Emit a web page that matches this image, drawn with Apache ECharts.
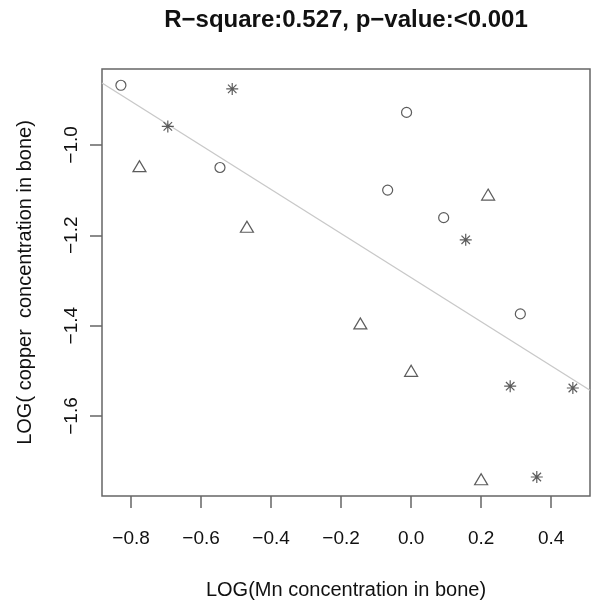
<!DOCTYPE html>
<html>
<head>
<meta charset="utf-8">
<script src="https://cdn.jsdelivr.net/npm/echarts@6/dist/echarts.min.js"></script>
<style>html,body{margin:0;padding:0;background:#fff}#c{width:601px;height:606px}</style>
</head>
<body>
<div id="c"></div>
<script>
// Data
const circleX = [-0.829, -0.546, -0.013, -0.067, 0.093, 0.312];
const circleY = [-0.868, -1.050, -0.928, -1.100, -1.161, -1.374];
const starX = [-0.511, -0.695, 0.156, 0.283, 0.462, 0.359];
const starY = [-0.876, -0.959, -1.210, -1.534, -1.538, -1.735];
const triX = [-0.776, -0.469, -0.145, 0.000, 0.200, 0.220];
const triY = [-1.047, -1.181, -1.395, -1.500, -1.740, -1.110];
const fitX = [-0.883, 0.511];
const fitY = [-0.863, -1.543];
const xTicks = [-0.8, -0.6, -0.4, -0.2, 0.0, 0.2, 0.4];
const yTicks = [-1.6, -1.4, -1.2, -1.0];
const titleText = 'R\u2212square:0.527, p\u2212value:<0.001';
const xName = 'LOG(Mn concentration in bone)';
const yName = 'LOG( copper  concentration in bone)';

const zip = (a, b) => a.map((v, i) => [v, b[i]]);
const FONT = '"Liberation Sans", Arial, Helvetica, sans-serif';
const fmt = v => {
  const s = Math.abs(v).toFixed(1);
  return (v < -1e-9 ? '\u2212' : '') + s;
};
const markColor = '#333';
const asterisk = 'path://M0,-10L0,10M-10,0L10,0M-7.07,-7.07L7.07,7.07M-7.07,7.07L7.07,-7.07';

const chart = echarts.init(document.getElementById('c'), null, {renderer: 'canvas'});
chart.setOption({
  animation: false,
  backgroundColor: '#fff',
  title: {
    text: titleText,
    left: 346,
    top: 8,
    textAlign: 'center',
    padding: 0,
    textStyle: {fontFamily: FONT, fontSize: 24, fontWeight: 'bold', color: '#111'}
  },
  grid: {
    left: 102, right: 11, top: 69, bottom: 110,
    show: true, borderColor: '#666', borderWidth: 1.5, backgroundColor: 'transparent'
  },
  xAxis: {
    type: 'value', min: -0.883, max: 0.511,
    name: xName, nameLocation: 'middle', nameGap: 84,
    nameTextStyle: {fontFamily: FONT, fontSize: 20, color: '#111'},
    axisLine: {show: false, onZero: false},
    splitLine: {show: false},
    axisTick: {show: true, inside: false, length: 12, customValues: xTicks, lineStyle: {color: '#666', width: 1.5}},
    axisLabel: {customValues: xTicks, margin: 33, fontFamily: FONT, fontSize: 19, color: '#111', formatter: fmt}
  },
  yAxis: {
    type: 'value', min: -1.777, max: -0.832,
    name: yName, nameLocation: 'middle', nameGap: 67, nameRotate: 90,
    nameTextStyle: {fontFamily: FONT, fontSize: 20, color: '#111'},
    axisLine: {show: false, onZero: false},
    splitLine: {show: false},
    axisTick: {show: true, inside: false, length: 12, customValues: yTicks, lineStyle: {color: '#666', width: 1.5}},
    axisLabel: {customValues: yTicks, rotate: 90, margin: 21, fontFamily: FONT, fontSize: 19, color: '#111', formatter: fmt}
  },
  series: [
    {
      type: 'line', data: zip(fitX, fitY), symbol: 'none', silent: true,
      lineStyle: {color: '#c8c8c8', width: 1.3}, z: 1
    },
    {
      type: 'scatter', data: zip(circleX, circleY), symbol: 'circle', symbolSize: 10,
      itemStyle: {color: '#fff', borderColor: markColor, borderWidth: 1.2}, z: 3
    },
    {
      type: 'scatter', data: zip(triX, triY), symbol: 'triangle', symbolSize: [13, 11],
      itemStyle: {color: '#fff', borderColor: markColor, borderWidth: 1.2}, z: 3
    },
    {
      type: 'scatter', data: zip(starX, starY), symbol: asterisk, symbolSize: 12,
      itemStyle: {color: 'none', borderColor: markColor, borderWidth: 1.2}, z: 3
    }
  ]
});
</script>
</body>
</html>
